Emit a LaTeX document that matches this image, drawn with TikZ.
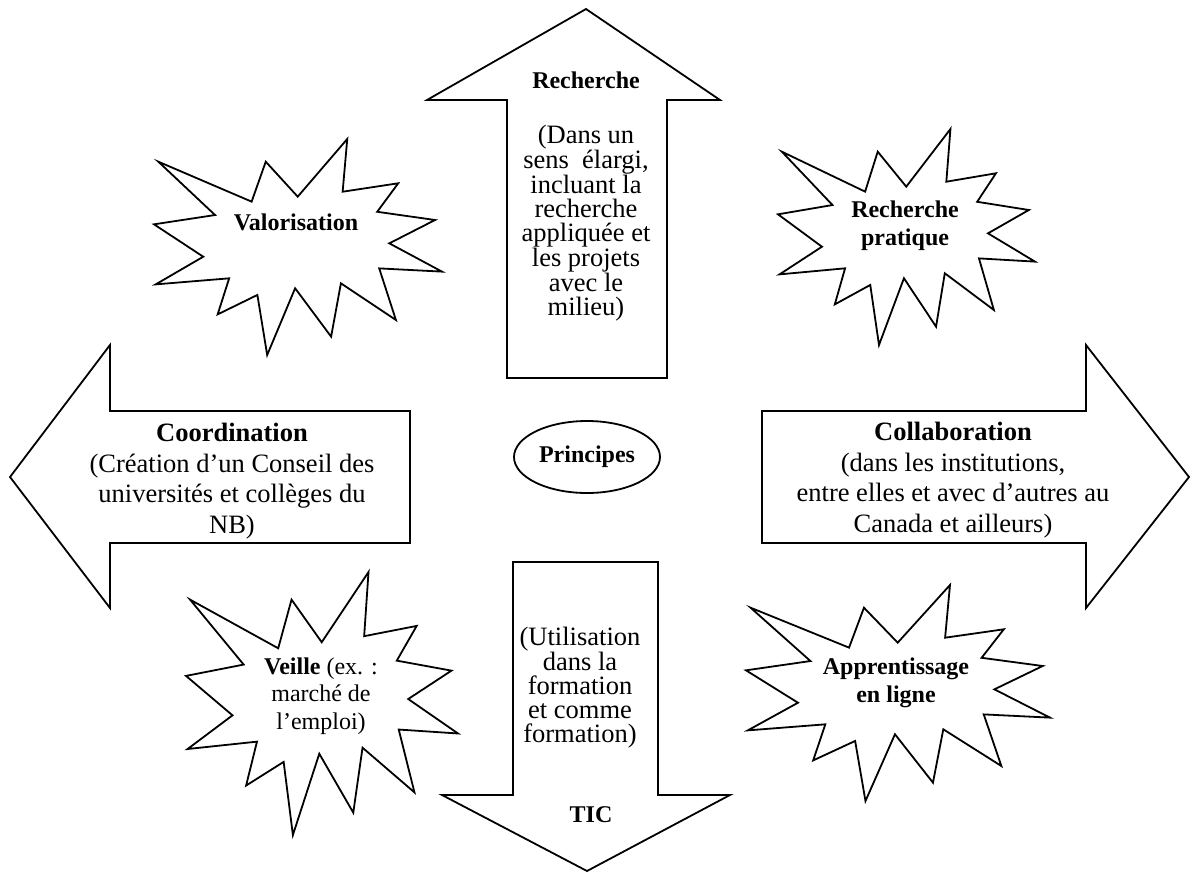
\documentclass[tikz,border=0pt]{standalone}
\usepackage{fontspec}
\setmainfont{Liberation Serif}
\usetikzlibrary{shapes.geometric}
\newcommand\burstshape[4]{%
  \draw[burst,shift={(#1,#2)},xscale=#3,yscale=#4]
   (0.015,0.105) -- (0.339,0.290) -- (0.388,0.105) -- (0.499,0.267) --
   (0.671,0.0) -- (0.655,0.244) -- (0.848,0.205) -- (0.775,0.337) --
   (0.976,0.375) -- (0.817,0.483) -- (1.0,0.614) -- (0.782,0.599) --
   (0.840,0.838) -- (0.649,0.668) -- (0.615,0.915) -- (0.490,0.691) --
   (0.393,1.0) -- (0.359,0.722) -- (0.221,0.812) -- (0.261,0.645) --
   (0.006,0.673) -- (0.171,0.545) -- (0.0,0.395) -- (0.212,0.352) -- cycle;}
\tikzset{
  burst/.style={draw=black, line width=1.8pt, line join=miter},
  bigarrow/.style={draw=black, line width=1.8pt, line join=miter},
  boldlbl/.style={font=\fontsize{24}{28}\selectfont\bfseries, align=center, inner sep=0pt},
  burstlbl/.style={font=\fontsize{24}{28}\selectfont, align=center, inner sep=0pt},
  vtxt/.style={font=\fontsize{26.5}{24}\selectfont, align=center, inner sep=0pt},
  htxt/.style={font=\fontsize{26.5}{30.5}\selectfont, align=center, inner sep=0pt},
}
\begin{document}
\begin{tikzpicture}[x=1pt,y=-1pt]
\useasboundingbox (0,0) rectangle (1192,873);
% starbursts
\burstshape{154}{139}{288}{216}
\burstshape{778}{129}{257}{216}
\burstshape{186}{572}{272}{263}
\burstshape{746}{585}{304}{216}
% up arrow
\draw[bigarrow] (586,9) -- (720,100) -- (667,100) -- (667,378) -- (507,378) -- (507,100) -- (427,100) -- cycle;
% down arrow
\draw[bigarrow] (513,562) -- (658,562) -- (658,795) -- (730,795) -- (587,871) -- (442,795) -- (513,795) -- cycle;
% left arrow
\draw[bigarrow] (10,477) -- (110,345) -- (110,411) -- (410,411) -- (410,543) -- (110,543) -- (110,608) -- cycle;
% right arrow
\draw[bigarrow] (762,411) -- (1086,411) -- (1086,345) -- (1189,477) -- (1086,608) -- (1086,543) -- (762,543) -- cycle;
% ellipse
\node[draw, line width=1.8pt, ellipse, minimum width=146pt, minimum height=72pt, inner sep=0pt, font=\fontsize{24}{28}\selectfont\bfseries] (princ) at (587,457) {Principes};
% texts
\node[boldlbl] (rechlbl) at (586,80) {Recherche};
\node[vtxt] (rechtxt) at (586,223) {(Dans un\\ sens~ élargi,\\ incluant la\\ recherche\\ appliquée et\\ les projets\\ avec le\\ milieu)};
\node[vtxt] (tictxt) at (580,688) {(Utilisation\\ dans la\\ formation\\ et comme\\ formation)};
\node[boldlbl] (ticlbl) at (591,815) {TIC};
\node[htxt] (coord) at (232,481) {\textbf{Coordination}\\ (Création d’un Conseil des\\ universités et collèges du\\ NB)};
\node[htxt] (collab) at (953,480) {\textbf{Collaboration}\\ (dans les institutions,\\ entre elles et avec d’autres au\\ Canada et ailleurs)};
\node[boldlbl] (valo) at (296,222) {Valorisation};
\node[boldlbl] (rprat) at (905,226) {Recherche\\ pratique};
\node[burstlbl, font=\fontsize{24}{27.5}\selectfont] (veille) at (321,696) {\textbf{Veille} (ex. :\\ marché de\\ l’emploi)};
\node[boldlbl] (appr) at (896,683) {Apprentissage\\ en ligne};
\end{tikzpicture}
\end{document}
